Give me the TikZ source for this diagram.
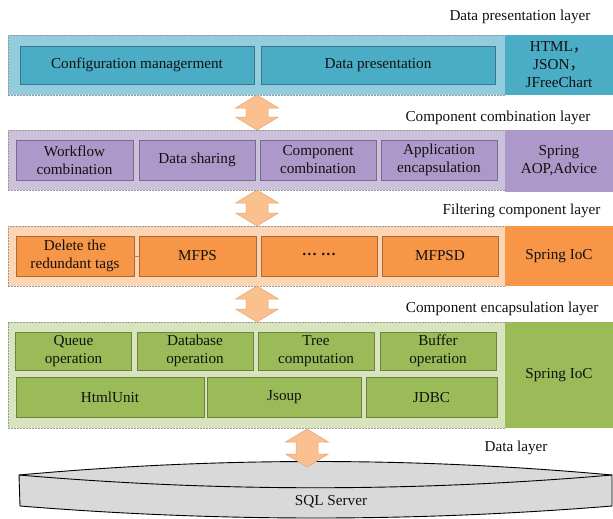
\documentclass[tikz,border=0pt]{standalone}
\usepackage{fontspec}
\setmainfont{Liberation Serif}
\newfontfamily\cjk{Noto Sans CJK SC}
\usetikzlibrary{calc}

\definecolor{bluebg}{HTML}{93CDDD}
\definecolor{bluebox}{HTML}{4BACC6}
\definecolor{purplebg}{HTML}{CCC1DA}
\definecolor{purplebox}{HTML}{AC99C9}
\definecolor{orangebg}{HTML}{FCD5B5}
\definecolor{orangebox}{HTML}{F79646}
\definecolor{greenbg}{HTML}{D7E4BD}
\definecolor{greenbox}{HTML}{9BBB59}
\definecolor{arrowfill}{HTML}{FAC090}
\definecolor{arrowline}{HTML}{E9A36E}
\definecolor{dbfill}{HTML}{D9D9D9}
\definecolor{ink}{HTML}{111111}

\tikzset{
  layerbox/.style={draw=black!40, dashed, dash pattern=on 1.8pt off 1.2pt,
    line width=0.5pt, outer sep=0pt, inner sep=0pt},
  sidebox/.style={outer sep=0pt, inner sep=1pt, align=center, text=ink},
  cell/.style={draw=#1!70!black, fill=#1, line width=0.5pt, outer sep=0pt,
    inner sep=1pt, align=center, text=ink},
  layername/.style={anchor=east, text=ink},
  arrowshape/.style={fill=arrowfill, draw=arrowline, line width=0.5pt, line join=miter}
}

% double-headed block arrow from #1 (top tip) to #2 (bottom tip)
\newcommand\blockarrow[2]{%
  \draw[arrowshape] (#1) -- ($(#1)+(21.5,13)$) -- ($(#1)+(11,13)$)
    -- ($(#2)+(11,-13)$) -- ($(#2)+(21.5,-13)$) -- (#2)
    -- ($(#2)+(-21.5,-13)$) -- ($(#2)+(-11,-13)$)
    -- ($(#1)+(-11,13)$) -- ($(#1)+(-21.5,13)$) -- cycle;}

\begin{document}
\begin{tikzpicture}[x=1pt, y=-1pt, font=\fontsize{15.2}{18}\selectfont]
\useasboundingbox (0,0) rectangle (613,519);

% ---------------- data presentation layer ----------------
\node[layername] (t1) at (594,17) {Data presentation layer};
\node[layerbox, fill=bluebg, minimum width=497pt, minimum height=60pt] (L1) at (256.5,65) {};
\node[sidebox, fill=bluebox, minimum width=108pt, minimum height=60pt] (S1) at (559,65)
  {HTML\cjk{，}\\JSON\cjk{，}\\JFreeChart};
\node[cell=bluebox, minimum width=234pt, minimum height=38pt] (cfg) at (137,65) {Configuration managerment};
\node[cell=bluebox, minimum width=234pt, minimum height=38pt] (dpr) at (378,65) {Data presentation};

% ---------------- component combination layer ----------------
\node[layername] (t2) at (594,118) {Component combination layer};
\node[layerbox, fill=purplebg, minimum width=497pt, minimum height=60pt] (L2) at (256.5,160) {};
\node[sidebox, fill=purplebox, minimum width=108pt, minimum height=62pt] (S2) at (559,161)
  {Spring\\AOP,Advice};
\node[cell=purplebox, minimum width=117pt, minimum height=40pt] (wf) at (74.5,160) {Workflow\\combination};
\node[cell=purplebox, minimum width=116pt, minimum height=40pt] (ds) at (197,160) {Data sharing};
\node[cell=purplebox, minimum width=116pt, minimum height=40pt] (cc) at (318,160) {Component\\combination};
\node[cell=purplebox, minimum width=116pt, minimum height=40pt] (ae) at (439,160) {Application\\encapsulation};

% ---------------- filtering component layer ----------------
\node[layername] (t3) at (604,211) {Filtering component layer};
\node[layerbox, fill=orangebg, minimum width=497pt, minimum height=60pt] (L3) at (256.5,256) {};
\node[sidebox, fill=orangebox, minimum width=108pt, minimum height=60pt] (S3) at (559,256)
  {Spring IoC};
\node[cell=orangebox, minimum width=118pt, minimum height=40pt] (del) at (75,256) {Delete the\\redundant tags};
\node[cell=orangebox, minimum width=117pt, minimum height=40pt] (mfps) at (197.5,256) {MFPS};
\node[cell=orangebox, minimum width=116pt, minimum height=40pt] (dots) at (319,256) {{\bfseries ···}\ {\bfseries ···}};
\node[cell=orangebox, minimum width=116pt, minimum height=40pt] (mfpsd) at (440,256) {MFPSD};
\draw[black!45, line width=0.4pt] (del.east) -- (mfps.west);

% ---------------- component encapsulation layer ----------------
\node[layername] (t4) at (602,309) {Component encapsulation layer};
\node[layerbox, fill=greenbg, minimum width=497pt, minimum height=106pt] (L4) at (256.5,375) {};
\node[sidebox, fill=greenbox, minimum width=108pt, minimum height=106pt] (S4) at (559,375)
  {Spring IoC};
\node[cell=greenbox, minimum width=116pt, minimum height=38pt] (que) at (73.5,351) {Queue\\operation};
\node[cell=greenbox, minimum width=116pt, minimum height=38pt] (dbo) at (195,351) {Database\\operation};
\node[cell=greenbox, minimum width=116pt, minimum height=38pt] (tree) at (316,351) {Tree\\computation};
\node[cell=greenbox, minimum width=116pt, minimum height=38pt] (buf) at (438,351) {Buffer\\operation};
\node[cell=greenbox, minimum width=188pt, minimum height=40pt] (hu) at (110,397.5) {HtmlUnit};
\node[cell=greenbox, minimum width=154pt, minimum height=40pt] (js) at (284.5,397.5) {Jsoup};
\node[cell=greenbox, minimum width=131pt, minimum height=40pt] (jdbc) at (431.5,397.5) {JDBC};

% ---------------- data layer ----------------
\node[text=ink] (t5) at (516,448) {Data layer};
\coordinate (dbL) at (19,475);
\coordinate (dbR) at (612,475);
\coordinate (dbLB) at (20,506);
\coordinate (dbRB) at (612,506);
\filldraw[fill=dbfill, draw=black, line width=0.9pt, line join=miter]
  (dbL) .. controls (217,457) and (414,457) .. (dbR)
  -- (dbRB) .. controls (414,522) and (218,522) .. (dbLB) -- cycle;
\draw[black, line width=0.9pt] (dbL) .. controls (217,492) and (414,492) .. (dbR);
\node[text=ink] (sql) at (331,502) {SQL Server};

% ---------------- arrows between layers ----------------
\coordinate (a1t) at (257,95);  \coordinate (a1b) at (257,130);
\coordinate (a2t) at (257,190); \coordinate (a2b) at (257,226);
\coordinate (a3t) at (257,286); \coordinate (a3b) at (257,322);
\coordinate (a4t) at (307,429); \coordinate (a4b) at (307,467);
\blockarrow{a1t}{a1b}
\blockarrow{a2t}{a2b}
\blockarrow{a3t}{a3b}
\blockarrow{a4t}{a4b}
\end{tikzpicture}
\end{document}
